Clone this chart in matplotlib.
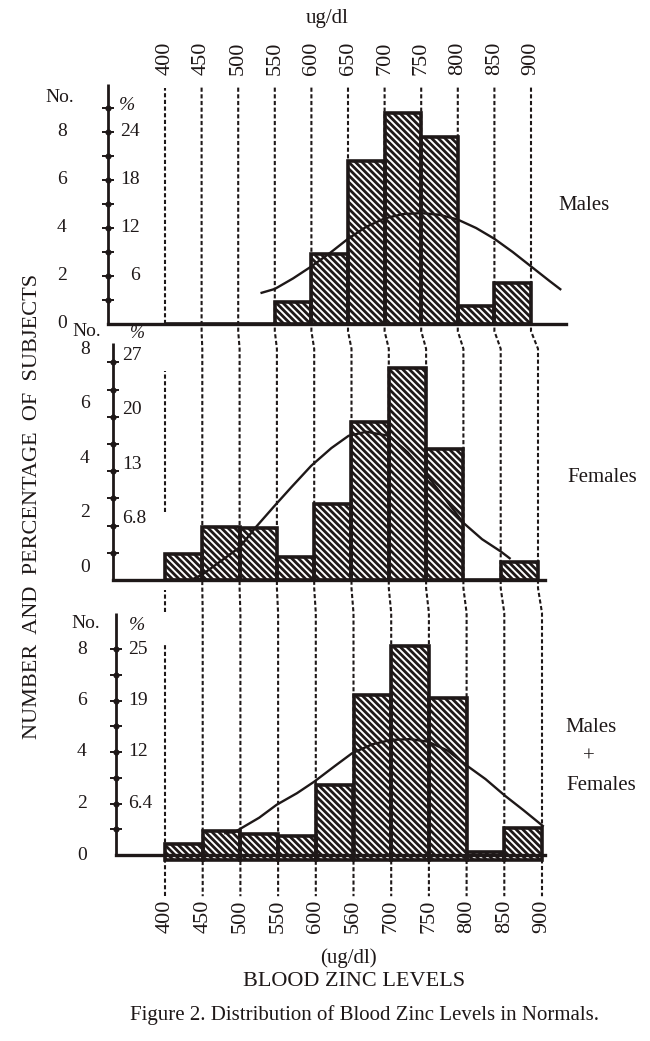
import matplotlib
matplotlib.use("Agg")
import matplotlib.pyplot as plt
from matplotlib.lines import Line2D
from matplotlib.transforms import IdentityTransform

plt.rcParams["font.family"] = ["Liberation Serif", "DejaVu Serif"]
plt.rcParams["hatch.linewidth"] = 2.0

# ---- values ----
bin_edges = [400, 450, 500, 550, 600, 650, 700, 750, 800, 850, 900]
top_tick_labels = ["400", "450", "500", "550", "600", "650", "700", "750", "800", "850", "900"]
bottom_tick_labels = ["400", "450", "500", "550", "600", "560", "700", "750", "800", "850", "900"]

no_tick_values = [8, 6, 4, 2, 0]
no_tick_labels = ["8", "6", "4", "2", "0"]
pct_tick_values = [8, 6, 4, 2]

males_counts = [0, 0, 0, 0.9, 2.9, 6.8, 8.8, 7.8, 0.75, 1.7]
males_pct = ["24", "18", "12", "6"]
males_curve_x = [532, 550, 575, 600, 625, 650, 675, 700, 725, 750, 775, 800, 825, 850, 875, 900, 925, 940]
males_curve_y = [1.3, 1.46, 1.9, 2.4, 2.95, 3.55, 4.05, 4.4, 4.58, 4.62, 4.55, 4.35, 4.0, 3.55, 3.0, 2.4, 1.8, 1.45]

females_counts = [0.95, 1.95, 1.9, 0.85, 2.8, 5.8, 7.8, 4.8, 0, 0.67]
females_pct = ["27", "20", "13", "6.8"]
females_curve_x = [435, 450, 470, 500, 522, 546, 569, 596, 623, 646, 670, 700, 725, 750, 775, 800, 825, 850, 862]
females_curve_y = [0.0, 0.2, 0.6, 1.2, 1.95, 2.7, 3.4, 4.2, 4.85, 5.3, 5.45, 5.3, 4.7, 3.9, 3.0, 2.1, 1.5, 1.05, 0.8]

both_counts = [0.43, 0.93, 0.82, 0.74, 2.7, 6.2, 8.1, 6.1, 0.1, 1.05]
both_pct = ["25", "19", "12", "6.4"]
both_curve_x = [480, 493, 525, 548, 575, 598, 625, 648, 675, 700, 725, 749, 775, 799, 825, 851, 875, 901]
both_curve_y = [0.85, 0.9, 1.45, 1.95, 2.4, 2.85, 3.45, 3.95, 4.3, 4.47, 4.5, 4.4, 4.05, 3.5, 2.95, 2.3, 1.75, 1.13]

# ---- layout (pixels of the 650x1041 page) ----
W, H = 650, 1041
INK = "#1e1818"
X0, X1 = 300, 960
PX400 = 165

fig = plt.figure(figsize=(W / 100, H / 100), dpi=100)
fig.patch.set_facecolor("white")


def fig_xy(x, y):
    return x / W, 1 - y / H


panels = [
    dict(counts=males_counts, cx=males_curve_x, cy=males_curve_y, pct=males_pct,
         k=0.732, zero=324, unit=24.0, band=(80, 335), axis_x=322, axis_top=10.0,
         base_end=948, ticks=[1, 2, 3, 4, 5, 6, 7, 8, 9], bar_bottom=0.0,
         span=(-0.3, 9.85), seg400=[(0, 9.85)],
         no_off=(-46, 0), pct_off=(32, 0), pct_ha="right"),
    dict(counts=females_counts, cx=females_curve_x, cy=females_curve_y, pct=females_pct,
         k=0.746, zero=580, unit=27.2, band=(335, 600), axis_x=330, axis_top=8.7,
         base_end=910, ticks=[1, 2, 3, 4, 5, 6, 7, 8], bar_bottom=0.0,
         span=(-0.3, 8.5), seg400=[(2.5, 7.7)],
         no_off=(-28, 13), pct_off=(9, 7), pct_ha="left"),
    dict(counts=both_counts, cx=both_curve_x, cy=both_curve_y, pct=both_pct,
         k=0.754, zero=855, unit=25.75, band=(600, 897), axis_x=335, axis_top=9.4,
         base_end=904, ticks=[1, 2, 3, 4, 5, 6, 7, 8], bar_bottom=-0.2,
         span=(-1.6, 9.4), seg400=[(9.45, 10.3), (-1.6, 8.15)],
         no_off=(-34, 0), pct_off=(12, 0), pct_ha="left"),
]

dash = (0, (2.0, 1.2))
axes = []
for p in panels:
    left = PX400 + (X0 - 400) * p["k"]
    right = PX400 + (X1 - 400) * p["k"]
    top, bottom = p["band"]
    ax = fig.add_axes([left / W, 1 - bottom / H, (right - left) / W, (bottom - top) / H])
    ax.set_xlim(X0, X1)
    ax.set_ylim((p["zero"] - bottom) / p["unit"], (p["zero"] - top) / p["unit"])
    ax.axis("off")
    axes.append(ax)

    bb = p["bar_bottom"]
    ax.bar(bin_edges[:-1], [c - bb for c in p["counts"]], bottom=bb, width=50,
           align="edge", facecolor="none", edgecolor=INK, linewidth=2.6,
           hatch="\\\\\\\\\\", zorder=3)
    ax.plot(p["cx"], p["cy"], color=INK, lw=1.7, zorder=5)

    # left axis with dotted ticks and the baseline
    ax.plot([p["axis_x"], p["axis_x"]], [0, p["axis_top"]], color=INK, lw=2.0,
            clip_on=False, solid_capstyle="butt")
    ax.plot([p["axis_x"], p["base_end"]], [0, 0], color=INK, lw=2.4, clip_on=False, zorder=4)
    ax.plot([p["axis_x"]] * len(p["ticks"]), p["ticks"], ls="none", marker="o", ms=3.4,
            color=INK, clip_on=False)
    ax.plot([p["axis_x"]] * len(p["ticks"]), p["ticks"], ls="none", marker="_", ms=8,
            mew=1.4, color=INK, clip_on=False)

    for v, lab in zip(no_tick_values, no_tick_labels):
        ax.annotate(lab, xy=(p["axis_x"], v), xytext=p["no_off"], textcoords="offset pixels",
                    ha="center", va="center", fontsize=14, color=INK, annotation_clip=False)
    for v, lab in zip(pct_tick_values, p["pct"]):
        ax.annotate(lab, xy=(p["axis_x"], v), xytext=p["pct_off"], textcoords="offset pixels",
                    ha=p["pct_ha"], va="center", fontsize=14, color=INK, annotation_clip=False)

    # the 400 guide is broken, the others run through the whole figure
    for a, b in p["seg400"]:
        ax.vlines(bin_edges[0], a, b, colors=INK, linestyles=dash, lw=1.5, clip_on=False)

for edge in bin_edges[1:]:
    xs, ys = [], []
    for p, ax in zip(panels, axes):
        pts = ax.transData.transform([(edge, p["span"][1]), (edge, p["span"][0])])
        xs += list(pts[:, 0])
        ys += list(pts[:, 1])
    fig.add_artist(Line2D(xs, ys, transform=IdentityTransform(), color=INK, lw=1.5,
                          linestyle=dash, zorder=-1))

# x tick labels above the first panel and below the last one
ax_top, ax_bot = axes[0], axes[2]
for edge, lab in zip(bin_edges, top_tick_labels):
    ax_top.text(edge, 1.02, lab, transform=ax_top.get_xaxis_transform(), rotation=90,
                ha="center", va="bottom", fontsize=16, color=INK)
for edge, lab in zip(bin_edges, bottom_tick_labels):
    ax_bot.text(edge, -0.01, lab, transform=ax_bot.get_xaxis_transform(), rotation=90,
                ha="center", va="top", fontsize=16, color=INK)

# text
fig.text(*fig_xy(327, 18), "ug/dl", ha="center", va="center", fontsize=15, color=INK)
fig.text(*fig_xy(60, 98), "No.", ha="center", va="center", fontsize=14, color=INK)
fig.text(*fig_xy(127, 105), "%", ha="center", va="center", fontsize=14, style="italic", color=INK)
fig.text(*fig_xy(87, 331), "No.", ha="center", va="center", fontsize=14, color=INK)
fig.text(*fig_xy(137, 334), "%", ha="center", va="center", fontsize=13, style="italic", color=INK)
fig.text(*fig_xy(86, 623), "No.", ha="center", va="center", fontsize=14, color=INK)
fig.text(*fig_xy(137, 625), "%", ha="center", va="center", fontsize=14, style="italic", color=INK)

fig.text(*fig_xy(558, 205), "Males", ha="left", va="center", fontsize=15, color=INK)
fig.text(*fig_xy(567, 477), "Females", ha="left", va="center", fontsize=15, color=INK)
fig.text(*fig_xy(591, 727), "Males", ha="center", va="center", fontsize=15, color=INK)
fig.text(*fig_xy(589, 757), "+", ha="center", va="center", fontsize=15, color=INK)
fig.text(*fig_xy(601, 785), "Females", ha="center", va="center", fontsize=15, color=INK)

fig.text(*fig_xy(33, 506), "NUMBER  AND  PERCENTAGE  OF  SUBJECTS", rotation=90,
         ha="center", va="center", fontsize=16, color=INK)
fig.text(*fig_xy(348, 958), "(ug/dl)", ha="center", va="center", fontsize=15, color=INK)
fig.text(*fig_xy(354, 982), "BLOOD ZINC LEVELS", ha="center", va="center", fontsize=16, color=INK)
fig.text(*fig_xy(365, 1015), "Figure 2. Distribution of Blood Zinc Levels in Normals.",
         ha="center", va="center", fontsize=15, color=INK)

fig.savefig("out.png", dpi=100, facecolor="white")
